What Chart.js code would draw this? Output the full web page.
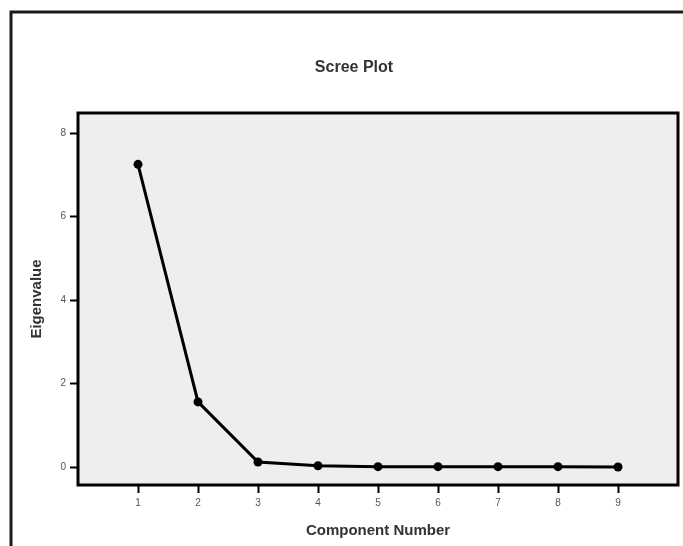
<!DOCTYPE html>
<html>
<head>
<meta charset="utf-8">
<title>Scree Plot</title>
<script src="https://cdn.jsdelivr.net/npm/chart.js@4"></script>
<style>
    html, body { margin: 0; padding: 0; background: #ffffff; overflow: hidden; }
    #wrap { width: 708px; height: 546px; }
</style>
</head>
<body>
<div id="wrap"><canvas id="scree" width="708" height="546"></canvas></div>
<script>
// === DATA ===
const components = [1, 2, 3, 4, 5, 6, 7, 8, 9];
const eigenvalues = [7.25, 1.56, 0.12, 0.03, 0.01, 0.01, 0.01, 0.01, 0.0];
const xTicks = [1, 2, 3, 4, 5, 6, 7, 8, 9];
const yTicks = [0, 2, 4, 6, 8];

const FONT = "'Liberation Sans', Arial, sans-serif";
const TITLE = 'Scree Plot';

// Grey plot panel with a heavy black frame, the outer figure frame and the
// figure title (centred on the whole figure, not just the plot panel)
const framePlugin = {
    id: 'framePlugin',
    beforeDraw(chart) {
        const { ctx, chartArea: a } = chart;
        ctx.save();
        ctx.fillStyle = '#eeeeee';
        ctx.fillRect(a.left, a.top, a.right - a.left, a.bottom - a.top);
        // outer figure frame (runs off the right and bottom edges)
        ctx.strokeStyle = '#1a1a1a';
        ctx.lineWidth = 3;
        ctx.beginPath();
        ctx.moveTo(11, 560);
        ctx.lineTo(11, 12);
        ctx.lineTo(720, 12);
        ctx.stroke();
        // title
        ctx.fillStyle = '#333333';
        ctx.font = 'bold 16px ' + FONT;
        ctx.textAlign = 'center';
        ctx.textBaseline = 'middle';
        ctx.fillText(TITLE, chart.width / 2, 68);
        ctx.restore();
    },
    afterDraw(chart) {
        const { ctx, chartArea: a } = chart;
        ctx.save();
        ctx.strokeStyle = '#000000';
        ctx.lineWidth = 3;
        ctx.strokeRect(a.left, a.top, a.right - a.left, a.bottom - a.top);
        ctx.restore();
    }
};

const ctx = document.getElementById('scree').getContext('2d');
new Chart(ctx, {
    type: 'line',
    data: {
        datasets: [{
            label: 'Eigenvalue',
            data: components.map((c, i) => ({ x: c, y: eigenvalues[i] })),
            borderColor: '#000000',
            borderWidth: 3,
            tension: 0,
            pointRadius: 4.5,
            pointBackgroundColor: '#000000',
            pointBorderColor: '#000000',
            pointBorderWidth: 0
        }]
    },
    options: {
        responsive: false,
        animation: false,
        layout: { padding: { left: 0, right: 30, top: 113, bottom: 0 } },
        plugins: {
            legend: { display: false },
            tooltip: { enabled: false }
        },
        scales: {
            x: {
                type: 'linear',
                min: 0,
                max: 10,
                afterBuildTicks: (scale) => { scale.ticks = xTicks.map(v => ({ value: v })); },
                afterFit: (scale) => { scale.height = 61; },
                border: { display: false },
                grid: {
                    drawOnChartArea: false,
                    drawTicks: true,
                    tickLength: 8,
                    tickWidth: 2,
                    tickColor: '#000000'
                },
                ticks: {
                    color: '#555555',
                    padding: 4,
                    font: { family: FONT, size: 10 }
                },
                title: {
                    display: true,
                    text: 'Component Number',
                    color: '#333333',
                    font: { family: FONT, size: 15, weight: 'bold' },
                    padding: { top: 0, bottom: 6 }
                }
            },
            y: {
                min: -0.43,
                max: 8.48,
                afterBuildTicks: (scale) => { scale.ticks = yTicks.map(v => ({ value: v })); },
                afterFit: (scale) => { scale.width = 78; },
                border: { display: false },
                grid: {
                    drawOnChartArea: false,
                    drawTicks: true,
                    tickLength: 8,
                    tickWidth: 2,
                    tickColor: '#000000'
                },
                ticks: {
                    color: '#555555',
                    padding: 4,
                    font: { family: FONT, size: 10 }
                },
                title: {
                    display: true,
                    text: 'Eigenvalue',
                    color: '#333333',
                    font: { family: FONT, size: 15, weight: 'bold' },
                    padding: { top: 28, bottom: 0 }
                }
            }
        }
    },
    plugins: [framePlugin]
});
</script>
</body>
</html>
